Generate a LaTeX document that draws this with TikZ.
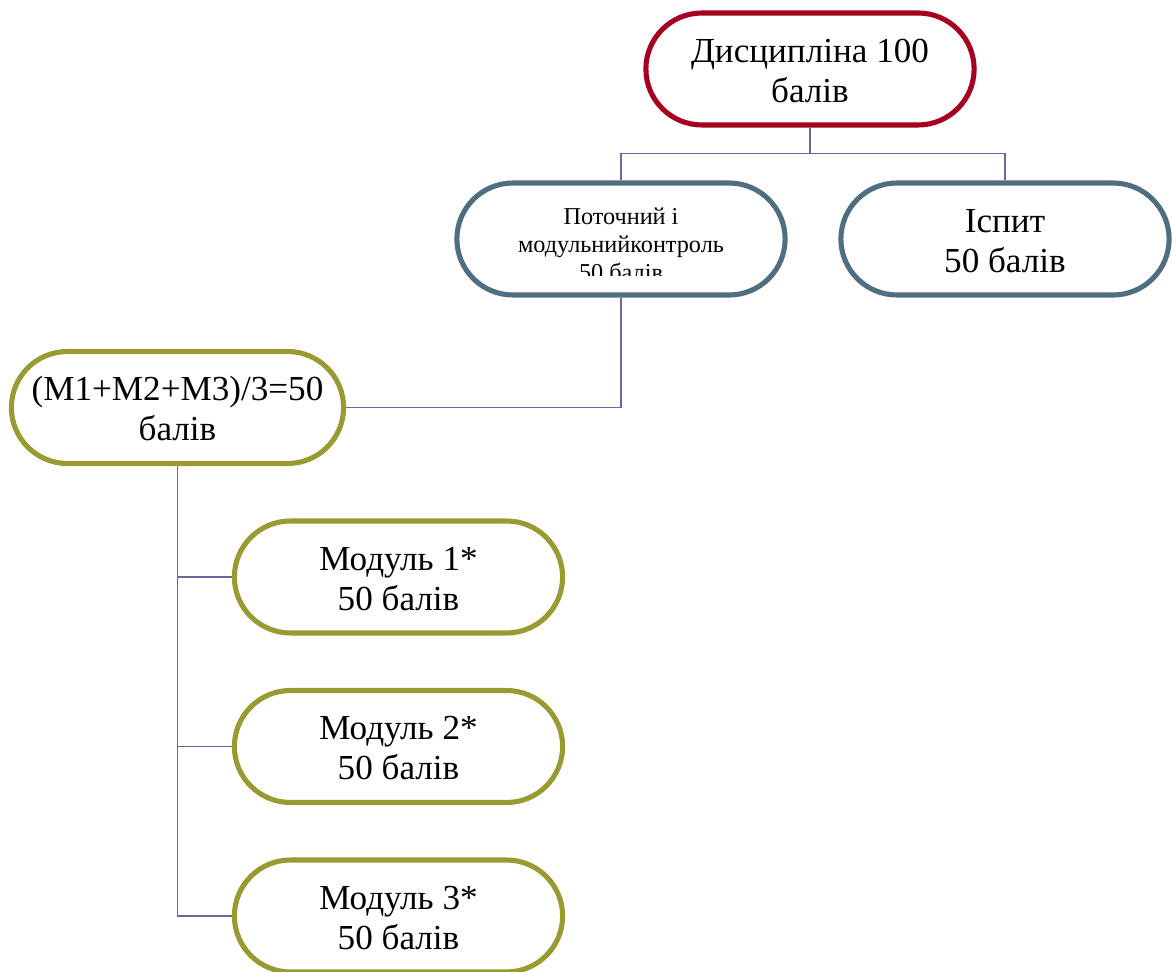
\documentclass[tikz,border=0pt]{standalone}
\usepackage{fontspec}
\setmainfont{Liberation Serif}
\usetikzlibrary{shapes.misc}
\definecolor{discred}{HTML}{A50021}
\definecolor{ctrlblue}{HTML}{4F6F80}
\definecolor{modolive}{HTML}{9A9A33}
\definecolor{linkviolet}{HTML}{6A66A0}
\tikzset{
  pill/.style={rounded rectangle,draw,line width=2.9pt,fill=white,minimum width=6.8cm,minimum height=2.24cm,align=center,text height=37.6pt,text depth=0pt,font=\fontsize{20}{22.6}\selectfont},
  link/.style={draw=linkviolet,line width=1pt},
}
\begin{document}
\begin{tikzpicture}[x=0.02cm,y=-0.02cm]
\useasboundingbox (0,0) rectangle (1172,972);
\node[pill,draw=discred] (disc) at (810,69) {Дисципліна 100\\балів};
\node[pill,draw=ctrlblue] (ctrl) at (621,239) {};
\begin{scope}
\clip (455,180) rectangle (787,276);
\node[align=center,font=\fontsize{13.8}{16}\selectfont] (ctrllbl) at (621,244) {Поточний і\\модульнийконтроль\\50 балів};
\end{scope}
\node[pill,draw=ctrlblue] (exam) at (1005,239) {Іспит\\50 балів};
\node[pill,draw=modolive,minimum width=6.88cm] (avg) at (177.5,407.5) {(M1+M2+M3)/3=50\\балів};
\foreach \i/\y in {1/577,2/746.5,3/916}{\node[pill,draw=modolive] (mod\i) at (398.5,\y) {Модуль \i*\\50 балів};\draw[link](avg.south)|-(mod\i.west);}
\draw[link](disc.south)--++(0,26)-|(ctrl.north);
\draw[link](disc.south)--++(0,26)-|(exam.north);
\draw[link](ctrl.south)|-(avg.east);
\end{tikzpicture}
\end{document}
